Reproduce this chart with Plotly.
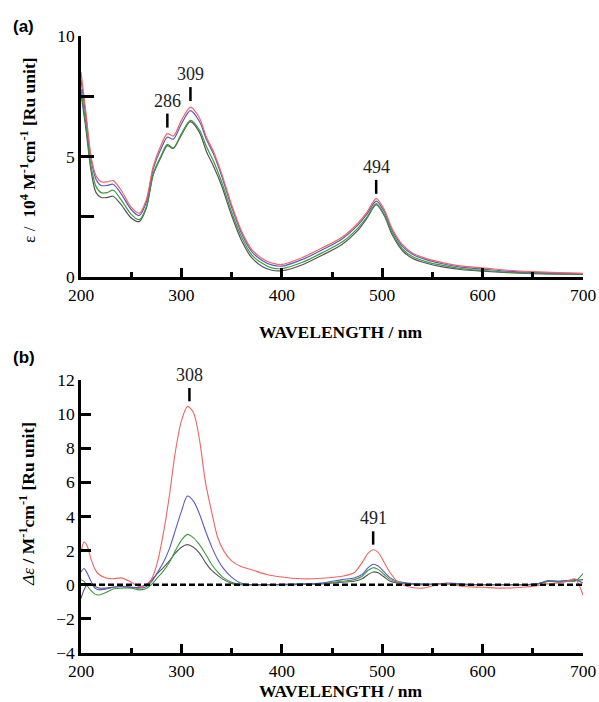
import plotly.graph_objects as go
from plotly.subplots import make_subplots

# ---------------- data: panel (a) absorption ----------------
wl_a = [200, 205, 210, 215, 220, 226, 232, 240, 250, 258, 265, 272, 280, 286, 292, 300, 309,
        318, 325, 332, 340, 350, 360, 370, 380, 390, 400, 420, 440, 460, 475, 485, 494, 502,
        510, 520, 530, 545, 560, 580, 600, 625, 650, 675, 700]
eps_red = [8.5, 6.8, 5.0, 4.2, 3.95, 3.95, 4.0, 3.6, 2.9, 2.65, 3.2, 4.6, 5.5, 5.95, 5.85, 6.5, 7.05,
           6.6, 5.8, 5.2, 4.3, 3.0, 1.9, 1.15, 0.78, 0.58, 0.52, 0.8, 1.2, 1.65, 2.2, 2.7, 3.25, 2.8,
           2.0, 1.35, 1.0, 0.75, 0.6, 0.45, 0.38, 0.28, 0.22, 0.18, 0.15]
eps_blue = [8.2, 6.6, 4.9, 4.05, 3.8, 3.8, 3.85, 3.45, 2.8, 2.55, 3.1, 4.5, 5.35, 5.8, 5.72, 6.35, 6.9,
            6.45, 5.7, 5.1, 4.2, 2.9, 1.8, 1.05, 0.7, 0.5, 0.45, 0.72, 1.12, 1.58, 2.12, 2.62, 3.15, 2.72,
            1.93, 1.28, 0.94, 0.7, 0.55, 0.4, 0.33, 0.24, 0.19, 0.16, 0.14]
eps_green = [7.8, 6.3, 4.6, 3.75, 3.5, 3.5, 3.6, 3.2, 2.6, 2.38, 2.9, 4.3, 5.05, 5.5, 5.35, 5.95, 6.5,
             6.1, 5.4, 4.8, 3.95, 2.7, 1.65, 0.92, 0.58, 0.38, 0.35, 0.6, 1.0, 1.45, 2.0, 2.5, 3.05, 2.6,
             1.82, 1.18, 0.85, 0.62, 0.48, 0.34, 0.27, 0.2, 0.16, 0.13, 0.12]
eps_black = [7.6, 6.1, 4.4, 3.5, 3.3, 3.3, 3.35, 3.0, 2.45, 2.3, 2.85, 4.25, 5.0, 5.45, 5.33, 5.9, 6.45,
             6.0, 5.2, 4.6, 3.8, 2.55, 1.5, 0.8, 0.45, 0.28, 0.26, 0.5, 0.9, 1.35, 1.9, 2.45, 3.0, 2.55,
             1.75, 1.1, 0.78, 0.56, 0.42, 0.3, 0.24, 0.18, 0.14, 0.12, 0.11]

# ---------------- data: panel (b) CD ----------------
wl_b = [200, 203, 206, 210, 214, 218, 225, 232, 240, 250, 258, 264, 270, 276, 282, 288, 294, 300,
        306, 312, 318, 324, 330, 336, 342, 350, 360, 370, 385, 400, 420, 440, 460, 472, 480, 486,
        491, 496, 502, 508, 515, 525, 540, 555, 565, 580, 600, 620, 640, 655, 665, 675, 685, 692, 700]
cd_red = [1.9, 2.5, 2.3, 1.5, 0.9, 0.6, 0.4, 0.35, 0.4, 0.15, -0.1, -0.05, 0.3, 1.3, 3.0, 5.2, 7.8, 9.6,
          10.45, 10.1, 8.5, 6.0, 4.3, 2.8, 2.0, 1.4, 1.05, 0.88, 0.6, 0.45, 0.35, 0.38, 0.5, 0.7, 1.3, 1.85,
          2.05, 1.9, 1.3, 0.7, 0.2, -0.1, -0.2, 0.0, 0.05, -0.1, -0.15, -0.2, -0.15, -0.05, 0.05, 0.1, 0.2, 0.35, -0.6]
cd_blue = [0.75, 0.95, 0.7, 0.2, -0.2, -0.3, -0.25, -0.15, -0.1, -0.15, -0.2, -0.15, 0.15, 0.7, 1.3, 2.1, 3.2, 4.3,
           5.2, 4.9, 4.15, 3.15, 2.25, 1.5, 0.95, 0.45, 0.08, 0.0, 0.0, 0.02, 0.05, 0.1, 0.3, 0.4, 0.6, 1.0,
           1.2, 1.1, 0.75, 0.4, 0.2, 0.1, 0.05, 0.05, 0.1, 0.05, 0.0, 0.0, 0.0, 0.05, 0.25, 0.2, 0.25, 0.3, 0.1]
cd_green = [0.3, 0.2, -0.05, -0.35, -0.55, -0.6, -0.45, -0.25, -0.2, -0.2, -0.3, -0.25, 0.0, 0.4, 0.8, 1.3, 2.0, 2.6,
            2.95, 2.75, 2.35, 1.8, 1.2, 0.75, 0.4, 0.15, 0.0, 0.0, 0.0, 0.0, 0.02, 0.08, 0.2, 0.3, 0.5, 0.85,
            1.0, 0.9, 0.6, 0.3, 0.15, 0.05, 0.0, 0.05, 0.05, 0.0, 0.0, 0.0, 0.0, 0.05, 0.2, 0.2, 0.25, 0.2, 0.65]
cd_black = [-0.8, -0.3, 0.0, 0.0, -0.1, -0.2, -0.2, -0.15, -0.1, -0.15, -0.15, -0.02, 0.25, 0.65, 1.0, 1.4, 1.85, 2.2,
            2.35, 2.2, 1.85, 1.3, 0.85, 0.55, 0.3, 0.08, 0.0, 0.0, 0.0, 0.0, 0.02, 0.05, 0.15, 0.2, 0.35, 0.6,
            0.75, 0.7, 0.45, 0.2, 0.1, 0.05, 0.0, 0.03, 0.05, 0.0, 0.0, 0.0, 0.0, 0.05, 0.2, 0.15, 0.2, 0.25, 0.3]

# peak labels
peaks_a = [286, 309, 494]
peaks_a_y = [6.2, 7.3, 3.45]
peaks_b = [308, 491]
peaks_b_y = [10.75, 2.35]

# ticks
x_ticks = [200, 300, 400, 500, 600, 700]
ya_ticks = [0, 5, 10]
yb_ticks = [-4, -2, 0, 2, 4, 6, 8, 10, 12]

colors = {"black": "#555555", "green": "#3c9c3c", "blue": "#5a5ac0", "red": "#f06464"}

fig = make_subplots(rows=2, cols=1, vertical_spacing=0.0)

for name, ys in [("black", eps_black), ("green", eps_green), ("blue", eps_blue), ("red", eps_red)]:
    fig.add_trace(go.Scatter(x=wl_a, y=ys, mode="lines", line=dict(color=colors[name], width=1.2, shape="spline", smoothing=0.8),
                             showlegend=False, hoverinfo="skip"), row=1, col=1)
for name, ys in [("black", cd_black), ("green", cd_green), ("blue", cd_blue), ("red", cd_red)]:
    fig.add_trace(go.Scatter(x=wl_b, y=ys, mode="lines", line=dict(color=colors[name], width=1.1, shape="spline", smoothing=0.8),
                             showlegend=False, hoverinfo="skip"), row=2, col=1)

SERIF = "Liberation Serif, Times New Roman, serif"
tickfont = dict(family=SERIF, size=17.5, color="black")

common_x = dict(range=[200, 700], tickmode="array", tickvals=x_ticks, ticks="inside", ticklen=9, tickwidth=2.5,
                tickcolor="black", showline=True, linewidth=2.5, linecolor="black", showgrid=False, zeroline=False,
                tickfont=tickfont, automargin=False,
                minor=dict(tick0=200, dtick=50, ticks="inside", ticklen=5, tickwidth=2.5, tickcolor="black", showgrid=False))

# Body margin is removed by post_script; plot area at page x 81..583, y 36..653.
fig.update_layout(
    width=599, height=702,
    margin=dict(l=81, r=16, t=36, b=49, autoexpand=False),
    paper_bgcolor="white", plot_bgcolor="white",
    xaxis=dict(domain=[0, 1], anchor="y", **common_x),
    xaxis2=dict(domain=[0, 1], anchor="y2", **common_x),
    yaxis=dict(domain=[0.6094, 1.0], range=[0, 10], tickmode="array", tickvals=ya_ticks, automargin=False,
               ticks="inside", ticklen=13, tickwidth=2.5, tickcolor="black", showline=True, linewidth=2.5,
               linecolor="black", showgrid=False, zeroline=False, tickfont=tickfont,
               minor=dict(tick0=0, dtick=2.5, ticks="inside", ticklen=13, tickwidth=2.5, tickcolor="black", showgrid=False)),
    yaxis2=dict(domain=[0.0, 0.4425], range=[-4, 12], tickmode="array", tickvals=yb_ticks, automargin=False,
                ticks="inside", ticklen=10, tickwidth=2.5, tickcolor="black", showline=True, linewidth=2.5,
                linecolor="black", showgrid=False, zeroline=False, tickfont=tickfont),
)

# zero reference line in (b)
fig.add_shape(type="line", xref="x2", yref="y2", x0=200, x1=700, y0=0, y1=0,
              line=dict(color="black", width=2.5, dash="6px,3px"))

numfont = dict(family=SERIF, size=18, color="#222222")
for px, py in zip(peaks_a, peaks_a_y):
    fig.add_shape(type="line", xref="x", yref="y", x0=px, x1=px, y0=py, y1=py + 0.58, line=dict(color="black", width=2.5))
    fig.add_annotation(x=px, y=py + 0.62, xref="x", yref="y", text=str(px), showarrow=False, yanchor="bottom",
                       font=numfont)
for px, py in zip(peaks_b, peaks_b_y):
    fig.add_shape(type="line", xref="x2", yref="y2", x0=px, x1=px, y0=py, y1=py + 0.78, line=dict(color="black", width=2.5))
    fig.add_annotation(x=px, y=py + 0.85, xref="x2", yref="y2", text=str(px), showarrow=False, yanchor="bottom",
                       font=numfont)

def ann(px, py, text, font, angle=0):
    # px, py are page pixel targets
    xp = (px - 81) / 502.0
    yp = (653 - py) / 617.0
    fig.add_annotation(x=xp, y=yp, xref="paper", yref="paper", text=text, showarrow=False, font=font,
                       xanchor="center", yanchor="middle", textangle=angle)

titlefont = dict(family=SERIF, size=17.5, color="black")
ann(340, 332, "<b>WAVELENGTH / nm</b>", titlefont)
ann(340, 691, "<b>WAVELENGTH / nm</b>", titlefont)
ann(28, 150, "ε /  <b>10<sup>4</sup> M<sup>-1</sup>cm<sup>-1</sup> [Ru unit]</b>", titlefont, -90)
ann(27, 504, "<i>Δε</i> <b>/ M<sup>-1</sup>cm<sup>-1</sup> [Ru unit]</b>", titlefont, -90)

labfont = dict(family="Liberation Sans, Arial, sans-serif", size=17, color="black")
ann(23, 26, "<b>(a)</b>", labfont)
ann(24, 357, "<b>(b)</b>", labfont)

fig.write_html("out.html", config={"displayModeBar": False},
               post_script="document.body.style.margin='0';document.body.style.overflow='hidden';")
